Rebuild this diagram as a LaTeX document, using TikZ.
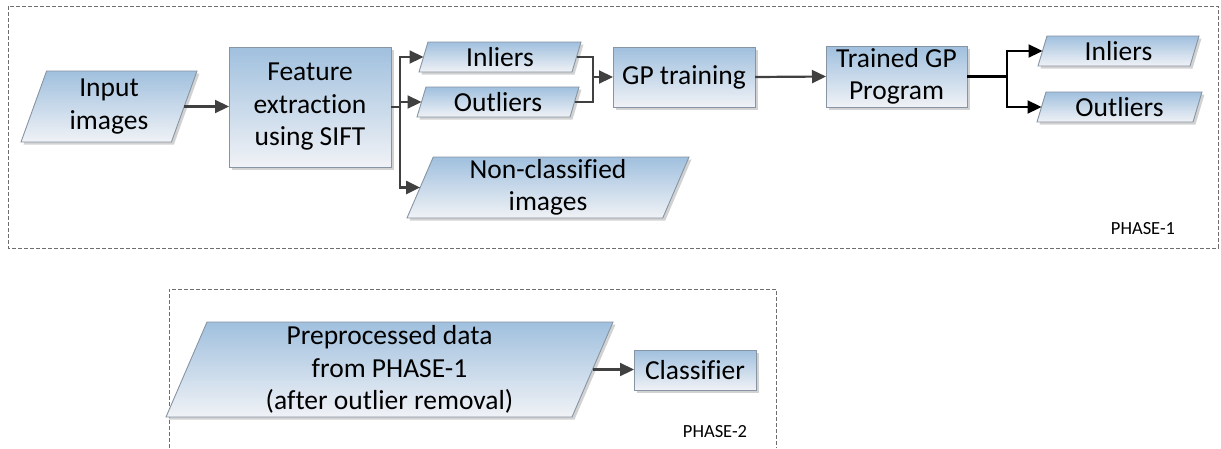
\documentclass[tikz,border=0pt]{standalone}
\usepackage{fontspec}
\setmainfont{Carlito}[Ligatures=NoCommon]
\usetikzlibrary{shapes.geometric,arrows.meta,shadows}
\definecolor{topc}{RGB}{160,192,222}
\definecolor{botc}{RGB}{240,242,246}
\definecolor{bord}{RGB}{135,148,163}
\definecolor{arrc}{RGB}{64,64,64}
\definecolor{dashc}{RGB}{110,110,110}
\begin{document}
\begin{tikzpicture}[x=1pt,y=-1pt,
  base/.style={draw=bord, line width=0.9pt, top color=topc, bottom color=botc,
    inner sep=0pt, outer sep=0pt, align=center, font=\fontsize{27.5}{32.5}\selectfont,
    drop shadow={shadow xshift=2.5pt, shadow yshift=-2.5pt, fill=black!35, opacity=0.5}},
  procbox/.style={base, rectangle},
  databox/.style={base, trapezium, trapezium left angle=65, trapezium right angle=115,
    trapezium stretches body},
  conn/.style={draw=arrc, line width=2.2pt},
  arr/.style={conn, -{Triangle[length=14pt,width=13pt]}},
  bconn/.style={draw=black, line width=2.2pt},
  barr/.style={bconn, -{Triangle[length=14pt,width=13pt]}},
  frame/.style={draw=dashc, line width=0.8pt, dash pattern=on 4pt off 2pt},
  phase/.style={font=\fontsize{18.5}{20}\selectfont}]
\useasboundingbox (0,0) rectangle (1221,448);

% frames
\draw[frame] (8,6) rectangle (1218,248);
\draw[frame] (169,448) |- (776,289) -- (776,448);
\node[phase] (p1) at (1143,229) {PHASE-1};
\node[phase] (p2) at (715,432) {PHASE-2};

% nodes
\node[databox, minimum width=176pt, minimum height=71pt] (in) at (109,106.5) {Input\\images};
\node[procbox, minimum width=162pt, minimum height=120pt] (feat) at (310,107) {Feature\\extraction\\using SIFT};
\node[databox, minimum width=162pt, minimum height=30pt] (inl1) at (500,57) {Inliers};
\node[databox, minimum width=162pt, minimum height=30pt] (out1) at (498,102) {Outliers};
\node[databox, minimum width=282pt, minimum height=61pt] (nc) at (548,187.5) {Non-classified\\images};
\node[procbox, minimum width=142pt, minimum height=60pt] (gp) at (684,77) {GP training};
\node[procbox, minimum width=141pt, minimum height=61pt] (tgp) at (896.5,76.5) {Trained GP\\Program};
\node[databox, minimum width=161pt, minimum height=30pt] (inl2) at (1118.5,51) {Inliers};
\node[databox, minimum width=165pt, minimum height=30pt] (out2) at (1119.5,107) {Outliers};
\node[databox, minimum width=447pt, minimum height=95pt] (pre) at (389.5,369.5) {Preprocessed data\\from PHASE-1\\(after outlier removal)};
\node[procbox, minimum width=122pt, minimum height=40pt] (cls) at (695,370) {Classifier};

% connectors
\draw[arr] (in.east) -- (in.east -| feat.west);
\coordinate (bx) at (400,107);
\draw[conn] (feat.east) -- (bx);
\draw[arr] (bx) |- (inl1.west);
\draw[arr] (bx) |- (out1.west);
\draw[arr] (bx) |- (nc.west);
\coordinate (j) at (593,77);
\draw[conn] (inl1.east) -| (j);
\draw[conn] (out1.east) -| (j);
\draw[arr] (j) -- (gp.west);
\draw[arr] (gp.east) -- (tgp.west);
\coordinate (bx2) at (1007,76.5);
\draw[bconn] (tgp.east) -- (bx2);
\draw[barr] (bx2) |- (inl2.west);
\draw[barr] (bx2) |- (out2.west);
\draw[arr] (pre.east) -- (pre.east -| cls.west);
\end{tikzpicture}
\end{document}
